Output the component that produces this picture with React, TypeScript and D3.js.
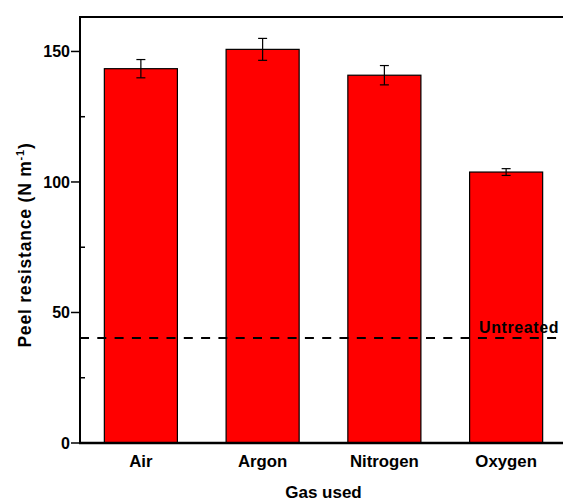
import React from "react";
import * as d3 from "d3";

const categories = ["Air", "Argon", "Nitrogen", "Oxygen"];
const values = [143.4, 150.8, 140.9, 103.8];
const errors = [3.5, 4.2, 3.7, 1.3];
const untreated = 40.2;
const yTicks = [0, 50, 100, 150];
const yMinorTicks = [25, 75, 125];

const W = 563;
const H = 502;
const margin = { left: 80, top: 17, right: -4, bottom: 59 };
const FONT = "'Liberation Sans', Arial, sans-serif";

export default function App() {
  const x = d3
    .scaleBand<string>()
    .domain(categories)
    .range([margin.left, W - margin.right])
    .paddingInner(0.4)
    .paddingOuter(0.2);
  const y = d3
    .scaleLinear()
    .domain([0, 163.2])
    .range([H - margin.bottom, margin.top]);
  const x0 = margin.left;
  const x1 = W - margin.right;
  const y0 = y(0);
  const yTop = margin.top;

  return (
    <svg
      width={W}
      height={H}
      style={{ position: "absolute", left: 0, top: 0, background: "#fff" }}
      fontFamily={FONT}
    >
      {categories.map((c, i) => (
        <rect
          key={c}
          x={x(c)}
          y={y(values[i])}
          width={x.bandwidth()}
          height={y0 - y(values[i])}
          fill="#ff0000"
          stroke="#000"
          strokeWidth={1.2}
        />
      ))}
      {categories.map((c, i) => {
        const cx = (x(c) as number) + x.bandwidth() / 2;
        const hi = y(values[i] + errors[i]);
        const lo = y(values[i] - errors[i]);
        return (
          <g key={c + "e"} stroke="#000" strokeWidth={1.2}>
            <line x1={cx} x2={cx} y1={hi} y2={lo} />
            <line x1={cx - 4.5} x2={cx + 4.5} y1={hi} y2={hi} />
            <line x1={cx - 4.5} x2={cx + 4.5} y1={lo} y2={lo} />
          </g>
        );
      })}
      <line
        x1={x0}
        x2={x1}
        y1={y(untreated)}
        y2={y(untreated)}
        stroke="#000"
        strokeWidth={2}
        strokeDasharray="9 8.3"
      />
      <text
        x={479}
        y={y(untreated) - 5}
        fontSize={16}
        letterSpacing={0.6}
        fontWeight="bold"
        fill="#000"
      >
        Untreated
      </text>
      {/* frame */}
      <line x1={x0} x2={x1} y1={yTop} y2={yTop} stroke="#000" strokeWidth={2} />
      <line x1={x0} x2={x0} y1={yTop - 1} y2={y0 + 1} stroke="#000" strokeWidth={2} />
      <line x1={x0 - 1} x2={x1} y1={y0} y2={y0} stroke="#000" strokeWidth={2.5} />
      {yTicks.map((t) => (
        <g key={t}>
          <line x1={x0 - 9} x2={x0} y1={y(t)} y2={y(t)} stroke="#000" strokeWidth={1.5} />
          <text
            x={x0 - 10}
            y={y(t)}
            dy="0.36em"
            textAnchor="end"
            fontSize={16}
            fontWeight="bold"
          >
            {t}
          </text>
        </g>
      ))}
      {yMinorTicks.map((t) => (
        <line key={t} x1={x0} x2={x0 + 5} y1={y(t)} y2={y(t)} stroke="#000" strokeWidth={1.5} />
      ))}
      {categories.map((c) => (
        <text
          key={c + "l"}
          x={(x(c) as number) + x.bandwidth() / 2}
          y={467}
          textAnchor="middle"
          fontSize={16.8}
          fontWeight="bold"
        >
          {c}
        </text>
      ))}
      <text x={(x0 + x1) / 2} y={498} textAnchor="middle" fontSize={17} fontWeight="bold">
        Gas used
      </text>
      <text
        transform={`translate(31, ${245}) rotate(-90)`}
        textAnchor="middle"
        fontSize={17.5}
        letterSpacing={0.8}
        fontWeight="bold"
      >
        Peel resistance (N m
        <tspan dy={-7} fontSize={11}>-1</tspan>
        <tspan dy={7}>)</tspan>
      </text>
    </svg>
  );
}
